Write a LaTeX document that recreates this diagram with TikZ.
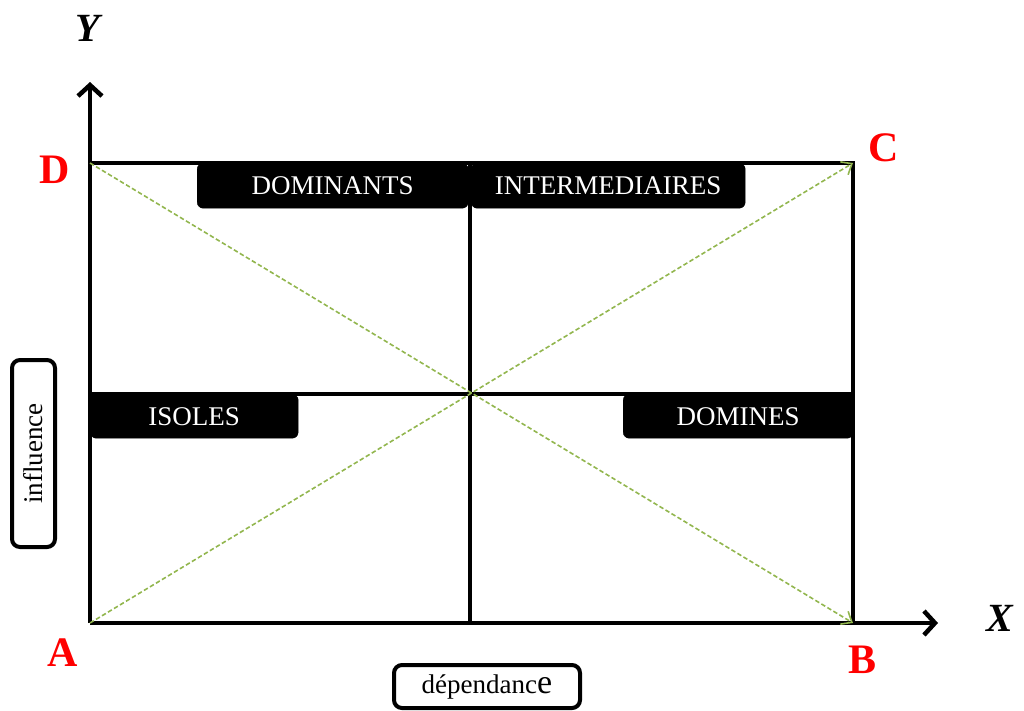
\documentclass[tikz,border=0pt]{standalone}
\usepackage{fontspec}
\setmainfont{Liberation Serif}
\usetikzlibrary{arrows.meta}
\definecolor{olivegreen}{HTML}{92B64E}
\begin{document}
\begin{tikzpicture}[x=1pt,y=-1pt,
  blackbox/.style={draw=black, fill=black, text=white, rounded corners=6pt,
    minimum height=45pt, inner sep=0pt, anchor=north west,
    font=\fontsize{27}{31}\selectfont},
  frameline/.style={line width=4.5pt, line cap=rect},
  axisline/.style={line width=4.5pt, -{Straight Barb[length=11pt,width=24pt,line width=4.5pt]}},
  diagline/.style={draw=olivegreen, line width=1.6pt, dash pattern=on 4.5pt off 2.5pt,
    -{Straight Barb[length=9pt,width=15pt,line width=1.6pt]}},
  cornerlabel/.style={text=red, font=\bfseries\fontsize{42}{46}\selectfont, inner sep=0pt},
  axislabel/.style={font=\bfseries\itshape\fontsize{40}{44}\selectfont, inner sep=0pt},
  textbox/.style={draw=black, line width=4pt, rounded corners=8pt, inner sep=0pt,
    font=\fontsize{27}{31}\selectfont}]
\useasboundingbox (0,0) rectangle (1024,710);
% corner coordinates
\coordinate (A) at (90,623);
\coordinate (B) at (853,623);
\coordinate (C) at (853,163);
\coordinate (D) at (90,163);
\coordinate (Mtop) at (470,163);
\coordinate (Mbot) at (470,623);
\coordinate (Mleft) at (90,394);
\coordinate (Mright) at (853,394);
\coordinate (Ytip) at (90,82);
\coordinate (Xtip) at (938,623);
% black boxes
\node[blackbox, minimum width=271pt] (dominants) at (197,163) {DOMINANTS};
\node[blackbox, minimum width=274pt] (intermed) at (471,163) {INTERMEDIAIRES};
\node[blackbox, minimum width=208pt, minimum height=44pt] (isoles) at (90,394) {ISOLES};
\node[blackbox, minimum width=230pt, minimum height=44pt] (domines) at (623,394) {DOMINES};
% frame
\draw[frameline] (D) -- (C) -- (B);
\draw[frameline] (Mtop) -- (Mbot);
\draw[frameline] (Mleft) -- (Mright);
% axes
\draw[axisline] (A) -- (Ytip);
\draw[axisline] (A) -- (Xtip);
% diagonals
\draw[diagline] (A) -- (C);
\draw[diagline] (D) -- (B);
% labels
\node[axislabel] (ylab) at (88,28) {Y};
\node[axislabel] (xlab) at (1000,618) {X};
\node[cornerlabel] (labD) at (55,170) {D};
\node[cornerlabel] (labC) at (884,148) {C};
\node[cornerlabel] (labA) at (63,653) {A};
\node[cornerlabel] (labB) at (862,660) {B};
% text boxes
\node[textbox, rotate=90, minimum width=187pt, minimum height=43pt] (influence) at (33.5,453.5) {influence};
\node[textbox, minimum width=186pt, minimum height=43pt] (dependance) at (487,686.5) {dépendanc{\fontsize{34}{34}\selectfont e}};
\end{tikzpicture}
\end{document}
